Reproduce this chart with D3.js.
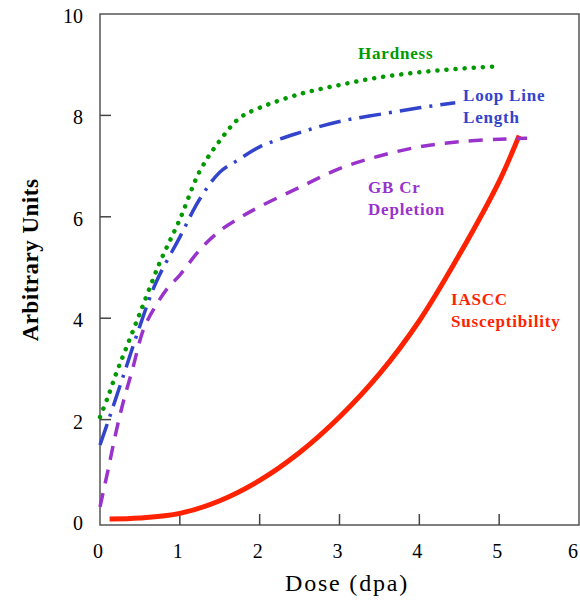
<!DOCTYPE html>
<meta charset="utf-8">
<script src="https://d3js.org/d3.v7.min.js"></script>
<style>
  body { margin: 0; background: #fff; }
  text { font-family: "Liberation Serif", "DejaVu Serif", serif; }
</style>
<div id="chart"></div>
<script>
// values: [dose, units]
var hardness = [[0,2.05],[0.1,2.45],[0.2,2.9],[0.3,3.3],[0.5,4.1],[0.75,5.1],[1,5.95],[1.25,6.9],[1.5,7.5],[1.75,7.95],[2,8.15],[2.5,8.42],[3,8.6],[3.5,8.75],[4,8.85],[4.5,8.92],[5,8.97]];
var loopLine = [[0,1.5],[0.12,2.05],[0.3,2.9],[0.5,3.85],[0.7,4.7],[1,5.6],[1.25,6.35],[1.5,6.88],[1.75,7.14],[2,7.38],[2.5,7.66],[3,7.88],[3.5,8.02],[4,8.15],[4.45,8.25]];
var gbCr = [[0,0.28],[0.1,1.0],[0.2,1.75],[0.3,2.4],[0.4,2.95],[0.55,3.8],[0.7,4.25],[0.85,4.6],[1,4.85],[1.25,5.35],[1.5,5.72],[1.75,5.98],[2,6.2],[2.5,6.58],[3,6.95],[3.5,7.2],[4,7.38],[4.5,7.48],[5,7.53],[5.35,7.55]];
var iascc = [[0.12,0.04],[0.5,0.06],[1,0.15],[1.5,0.4],[2,0.8],[2.5,1.35],[3,2.05],[3.5,2.9],[4,3.95],[4.5,5.25],[5,6.7],[5.25,7.6]];

var xTicks = [0,1,2,3,4,5,6];
var yTicks = [0,2,4,6,8,10];

var width = 580, height = 603;

var svg = d3.select("#chart").append("svg")
  .attr("width", width)
  .attr("height", height);

var x = d3.scaleLinear().domain([0, 6]).range([100, 579]);
var y = d3.scaleLinear().domain([0, 10]).range([521, 14]);

// frame
svg.append("rect")
  .attr("x", 100).attr("y", 14)
  .attr("width", 479).attr("height", 511)
  .attr("fill", "none")
  .attr("stroke", "#555")
  .attr("stroke-width", 1.5);

// x ticks (inward) and labels
svg.selectAll("xtick")
  .data(xTicks.filter(function(d) { return d > 0 && d < 6; }))
  .enter().append("line")
    .attr("x1", function(d) { return x(d); })
    .attr("x2", function(d) { return x(d); })
    .attr("y1", 525).attr("y2", 514)
    .attr("stroke", "#444").attr("stroke-width", 1.5);

svg.selectAll("xlabel")
  .data(xTicks)
  .enter().append("text")
    .attr("x", function(d) { return Math.min(x(d) - 2, 573); })
    .attr("y", 558)
    .attr("text-anchor", "middle")
    .style("font-size", "20px")
    .text(function(d) { return d; });

// y ticks and labels
svg.selectAll("ytick")
  .data(yTicks.filter(function(d) { return d > 0 && d < 10; }))
  .enter().append("line")
    .attr("x1", 100).attr("x2", 111)
    .attr("y1", function(d) { return y(d); })
    .attr("y2", function(d) { return y(d); })
    .attr("stroke", "#444").attr("stroke-width", 1.5);

svg.selectAll("ylabel")
  .data(yTicks)
  .enter().append("text")
    .attr("x", 83)
    .attr("y", function(d) { return y(d) + 9; })
    .attr("text-anchor", "end")
    .style("font-size", "20px")
    .text(function(d) { return d; });

// axis titles
svg.append("text")
  .attr("x", 347).attr("y", 591)
  .attr("text-anchor", "middle")
  .style("font-size", "24px")
  .style("letter-spacing", "1.8px")
  .text("Dose (dpa)");

svg.append("text")
  .attr("transform", "translate(38,260) rotate(-90)")
  .attr("text-anchor", "middle")
  .style("font-size", "23px")
  .style("font-weight", "bold")
  .style("letter-spacing", "0.5px")
  .text("Arbitrary Units");

// curves
var line = d3.line()
  .x(function(d) { return x(d[0]); })
  .y(function(d) { return y(d[1]); })
  .curve(d3.curveCatmullRom.alpha(0.5));

svg.append("path").datum(iascc)
  .attr("d", line).attr("fill", "none")
  .attr("stroke", "#ff2200").attr("stroke-width", 5);

svg.append("path").datum(gbCr)
  .attr("d", line).attr("fill", "none")
  .attr("stroke", "#9933cc").attr("stroke-width", 3.5)
  .attr("stroke-dasharray", "14 10");

svg.append("path").datum(loopLine)
  .attr("d", line).attr("fill", "none")
  .attr("stroke", "#3344cc").attr("stroke-width", 3.5)
  .attr("stroke-dasharray", "22 8 3 8");

svg.append("path").datum(hardness)
  .attr("d", line).attr("fill", "none")
  .attr("stroke", "#009900").attr("stroke-width", 4.5)
  .attr("stroke-linecap", "round")
  .attr("stroke-dasharray", "0.1 9");

// series labels
function label(lines, x0, y0, color) {
  var t = svg.append("text")
    .attr("x", x0).attr("y", y0)
    .attr("fill", color)
    .style("font-size", "17px")
    .style("font-weight", "bold")
    .style("letter-spacing", "0.8px");
  lines.forEach(function(s, i) {
    t.append("tspan").attr("x", x0).attr("dy", i === 0 ? 0 : 22).text(s);
  });
}
label(["Hardness"], 358, 59, "#009900");
label(["Loop Line", "Length"], 463, 101, "#3344cc");
label(["GB Cr", "Depletion"], 368, 193, "#9933cc");
label(["IASCC", "Susceptibility"], 451, 305, "#ff2200");
</script>
